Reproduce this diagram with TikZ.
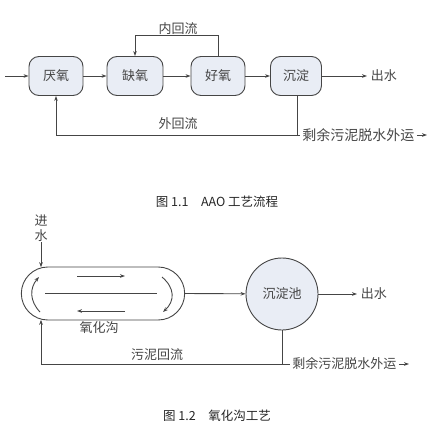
\documentclass[tikz,border=0pt]{standalone}
\usepackage{fontspec}
\setmainfont{Noto Sans CJK SC}
\usetikzlibrary{arrows.meta,shapes.misc}
\definecolor{tankfill}{HTML}{E9EDF5}
\definecolor{ink}{HTML}{454545}
\begin{document}
\begin{tikzpicture}[x=1pt, y=-1pt, line width=0.9pt, color=ink,
  >={Stealth[length=5pt,width=3.6pt]},
  tank/.style={draw, fill=tankfill, rounded corners=10pt, minimum width=54pt,
    minimum height=39pt, font=\fontsize{13}{13}\selectfont},
  lbl/.style={font=\fontsize{13}{13}\selectfont},
  figcap/.style={font=\fontsize{12.5}{12.5}\selectfont, text=black!85}]
  \useasboundingbox (0,0) rectangle (429,423);
  % AAO
  \node[tank] (anaer) at (56,76) {厌氧};
  \node[tank, minimum width=56pt] (anox) at (135,76) {缺氧};
  \node[tank] (oxic) at (218,76) {好氧};
  \node[tank, minimum width=51pt] (settle) at (296,76) {沉淀};
  \coordinate (in1) at (5,76);
  \node[lbl, anchor=west] (out1) at (367,76) {出水};
  \node[lbl] (inner) at (178,29) {内回流};
  \node[lbl] (outer) at (178,124) {外回流};
  \coordinate (j1) at (297,135);
  \node[lbl, anchor=west, font=\fontsize{14}{14}\selectfont, inner sep=2pt] (sludge1) at (300,135) {剩余污泥脱水外运};
  \coordinate (end1) at (427,135);
  \draw[->] (in1) -- (anaer);
  \draw[->] (anaer) -- (anox);
  \draw[->] (anox) -- (oxic);
  \draw[->] (oxic) -- (settle);
  \draw[->] (settle) -- (out1);
  \draw[->] (oxic.north) -- ++(0,-20.5) -| (anox.north);
  \draw[->] (settle.south -| j1) -- (j1) -| (anaer.south);
  \draw (j1) -- (sludge1.west);
  \draw[->] (sludge1.east) -- (end1);
  \node[figcap] (cap1) at (217,202) {图 1.1\quad AAO 工艺流程};
  % oxidation ditch
  \node[draw, rounded rectangle, minimum width=170pt, minimum height=53pt] (ditch) at (103,293.5) {};
  \draw (45,293) -- (157,293);
  \draw[->] (77,276) -- (125,276);
  \draw[->] (125,311) -- (77,311);
  \draw[<-] (39,277) .. controls (29.5,288) and (29.5,301) .. (40,312);
  \draw[->] (162,277) .. controls (175,288) and (175,301) .. (163,312);
  \node[lbl, align=center, anchor=south, inner sep=0pt, font=\fontsize{13}{15}\selectfont] (in2) at (41,242) {进\\水};
  \coordinate (ditchin) at (41,267.2);
  \coordinate (ditchret) at (41,319.8);
  \node[draw, circle, fill=tankfill, minimum size=72pt, lbl] (clar) at (282,294) {沉淀池};
  \node[lbl, anchor=west] (out2) at (357,294) {出水};
  \node[lbl] (ditchlbl) at (99,328) {氧化沟};
  \node[lbl] (ret) at (157,355) {污泥回流};
  \coordinate (j2) at (282,364);
  \node[lbl, anchor=west, inner sep=2pt] (sludge2) at (290,364) {剩余污泥脱水外运};
  \coordinate (end2) at (409,364);
  \draw[->] (in2) -- (ditchin);
  \draw[->] (ditch.east) -- (clar);
  \draw[->] (clar) -- (out2);
  \draw[->] (clar.south) -- (j2) -| (ditchret);
  \draw (j2) -- (sludge2.west);
  \draw[->] (sludge2.east) -- (end2);
  \node[figcap] (cap2) at (217,416) {图 1.2\quad 氧化沟工艺};
\end{tikzpicture}
\end{document}
